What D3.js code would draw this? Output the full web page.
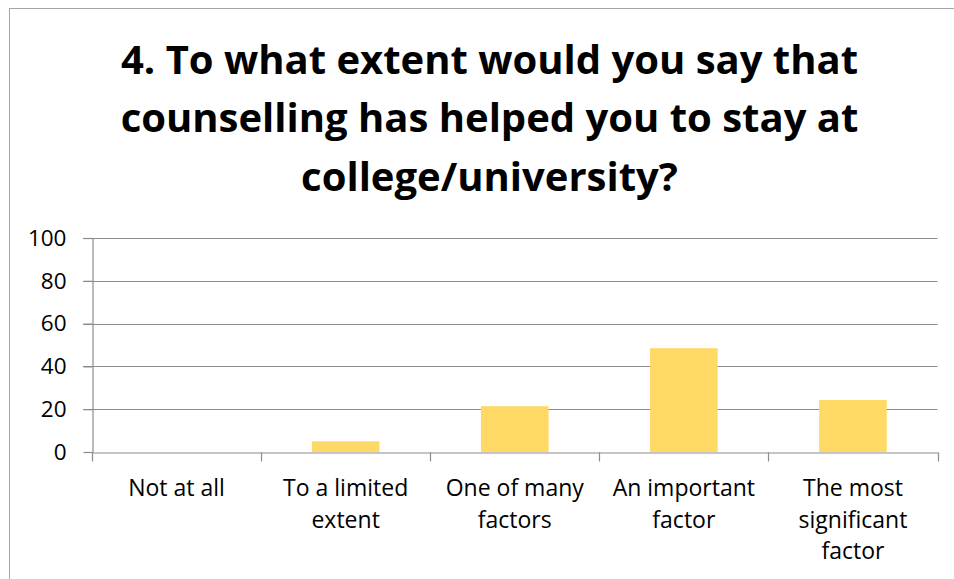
<!DOCTYPE html>
<html>
<head>
<meta charset="utf-8">
<script src="https://cdn.jsdelivr.net/npm/d3@7"></script>
<style>
  html, body { margin: 0; padding: 0; background: #fff; }
  svg { display: block; }
  text { font-family: "Open Sans", "Noto Sans", sans-serif; fill: #000; }
</style>
</head>
<body>
<svg id="chart" width="954" height="579"></svg>
<script>
// Survey answers and the share of respondents choosing each
const categories = [
  ["Not at all"],
  ["To a limited", "extent"],
  ["One of many", "factors"],
  ["An important", "factor"],
  ["The most", "significant", "factor"]
];
const values = [0, 5.0, 21.4, 48.5, 24.3];
const yTicks = [0, 20, 40, 60, 80, 100];
const titleLines = [
  "4. To what extent would you say that",
  "counselling has helped you to stay at",
  "college/university?"
];

const svg = d3.select("#chart");
const W = 954, H = 579;
const FONT = '"Open Sans", "Noto Sans", sans-serif';

// outer chart frame
svg.append("rect")
  .attr("x", 9.5).attr("y", 8.5)
  .attr("width", W + 10).attr("height", H + 10)
  .attr("fill", "none").attr("stroke", "#a6a6a6").attr("stroke-width", 1);

// title
const title = svg.append("text")
  .attr("text-anchor", "middle")
  .attr("font-weight", "bold")
  .attr("font-size", 40);
titleLines.forEach((t, i) => {
  title.append("tspan")
    .attr("x", 489.5)
    .attr("y", 73.5 + i * 58.5)
    .text(t);
});

const plot = { left: 92, right: 937.5, top: 238, bottom: 452 };

const x = d3.scaleBand()
  .domain(d3.range(categories.length))
  .range([plot.left, plot.right])
  .paddingInner(0.6).paddingOuter(0.3);

const xOuter = d3.scaleBand()
  .domain(d3.range(categories.length))
  .range([plot.left, plot.right]);

const y = d3.scaleLinear().domain([0, 100]).range([plot.bottom, plot.top]);

// horizontal gridlines with small left tick
svg.append("g").selectAll("line")
  .data(yTicks.filter(d => d > 0))
  .join("line")
  .attr("x1", plot.left - 9).attr("x2", plot.right)
  .attr("y1", d => Math.round(y(d)) + 0.5)
  .attr("y2", d => Math.round(y(d)) + 0.5)
  .attr("stroke", "#8c8c8c").attr("stroke-width", 1.2);

// bars
svg.append("g").selectAll("rect")
  .data(values)
  .join("rect")
  .attr("x", (d, i) => x(i))
  .attr("width", x.bandwidth())
  .attr("y", d => y(d))
  .attr("height", d => y(0) - y(d))
  .attr("fill", "#ffd966");

// y axis
const yAxis = d3.axisLeft(y).tickValues(yTicks).tickSize(9).tickSizeOuter(0);
const gy = svg.append("g")
  .attr("transform", `translate(${plot.left + 0.5},0)`)
  .call(yAxis);
gy.attr("font-family", FONT).attr("font-size", 22.5);
gy.select(".domain").attr("stroke", "#8c8c8c").attr("stroke-width", 1.2);
gy.selectAll(".tick line").attr("stroke", "#8c8c8c").attr("stroke-width", 1.2);
gy.selectAll(".tick text")
  .attr("x", -26)
  .attr("fill", "#000");

// x axis baseline with category dividers
const gx = svg.append("g")
  .attr("transform", `translate(0,${Math.round(plot.bottom) + 0.5})`)
  .call(d3.axisBottom(xOuter).tickSize(0).tickFormat(""));
gx.select(".domain").attr("stroke", "#8c8c8c").attr("stroke-width", 1.2);
gx.selectAll(".tick").remove();
const dividers = d3.range(categories.length).map(i => xOuter(i)).concat([plot.right]);
gx.selectAll("line.div")
  .data(dividers)
  .join("line")
  .attr("class", "div")
  .attr("x1", d => Math.round(d) + 0.5).attr("x2", d => Math.round(d) + 0.5)
  .attr("y1", 0).attr("y2", 9)
  .attr("stroke", "#8c8c8c").attr("stroke-width", 1.2);

// category labels
const labels = svg.append("g");
categories.forEach((lines, i) => {
  const t = labels.append("text")
    .attr("text-anchor", "middle")
    .attr("font-size", 23);
  lines.forEach((ln, j) => {
    t.append("tspan")
      .attr("x", xOuter(i) + xOuter.bandwidth() / 2)
      .attr("y", 496 + j * 31.5)
      .text(ln);
  });
});
</script>
</body>
</html>
